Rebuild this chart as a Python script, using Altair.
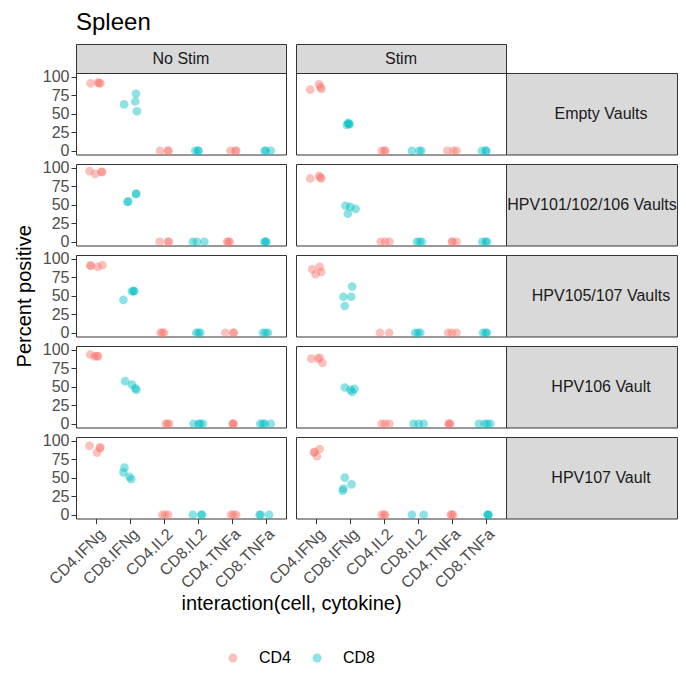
import altair as alt
import pandas as pd

FONT = "Liberation Sans"

CATEGORIES = ["CD4.IFNg", "CD8.IFNg", "CD4.IL2", "CD8.IL2", "CD4.TNFa", "CD8.TNFa"]
VAULTS = ["Empty Vaults", "HPV101/102/106 Vaults", "HPV105/107 Vaults", "HPV106 Vault", "HPV107 Vault"]
STIMS = ["No Stim", "Stim"]
CELLS = ["CD4", "CD8"]
COLORS = ["#F8766D", "#00BFC4"]
Y_TICKS = [0, 25, 50, 75, 100]

# (category index, horizontal jitter, percent positive)
EMPTY_NOSTIM = [
    (0, -0.17, 91), (0, 0.05, 92), (0, 0.12, 91), (0, 0.08, 91.5),
    (1, -0.18, 62.7), (1, 0.17, 77), (1, 0.15, 66.5), (1, 0.2, 53.3),
    (2, -0.12, 0), (2, 0.11, 0), (2, 0.13, 0),
    (3, -0.08, 0), (3, 0.0, 0), (3, 0.02, 0),
    (4, -0.04, 0), (4, 0.11, 0), (4, 0.13, 0),
    (5, -0.03, 0), (5, 0.0, 0), (5, 0.15, 0),
]
EMPTY_STIM = [
    (0, -0.18, 82.5), (0, 0.08, 89.6), (0, 0.15, 83.5), (0, 0.12, 86),
    (1, -0.1, 35), (1, -0.04, 36.3), (1, -0.02, 35.8), (1, -0.06, 37.7),
    (2, -0.07, 0), (2, 0.03, 0), (2, 0.02, 0),
    (3, -0.18, 0), (3, 0.04, 0), (3, 0.1, 0),
    (4, -0.13, 0), (4, 0.05, 0), (4, 0.14, 0),
    (5, -0.11, 0), (5, 0.02, 0), (5, 0.0, 0),
]
H101_NOSTIM = [
    (0, -0.2, 95.3), (0, -0.03, 91.6), (0, 0.17, 94), (0, 0.15, 94.5),
    (1, -0.08, 53.7), (1, -0.06, 54.5), (1, 0.18, 65), (1, 0.17, 64.5),
    (2, -0.13, 0), (2, 0.14, 0), (2, 0.12, 0),
    (3, -0.15, 0), (3, -0.03, 0), (3, 0.19, 0),
    (4, -0.14, 0), (4, -0.06, 0), (4, -0.1, 0),
    (5, 0.0, 0), (5, -0.04, 0), (5, 0.02, 0),
]
H101_STIM = [
    (0, -0.18, 85.5), (0, 0.08, 89), (0, 0.15, 85.5), (0, 0.12, 87),
    (1, -0.14, 48.6), (1, 0.0, 47.2), (1, 0.16, 44.4), (1, -0.07, 37.9),
    (2, -0.1, 0), (2, 0.03, 0), (2, 0.16, 0),
    (3, -0.03, 0), (3, 0.12, 0), (3, 0.05, 0),
    (4, 0.0, 0), (4, 0.14, 0), (4, 0.02, 0),
    (5, -0.1, 0), (5, 0.04, 0), (5, 0.0, 0),
]
H105_NOSTIM = [
    (0, -0.18, 90.8), (0, 0.04, 89), (0, 0.18, 91.3), (0, -0.16, 90.5),
    (1, -0.2, 44.5), (1, 0.05, 56), (1, 0.12, 56), (1, 0.1, 56.5),
    (2, -0.1, 0), (2, 0.0, 0), (2, -0.05, 0),
    (3, -0.05, 0), (3, 0.07, 0), (3, 0.02, 0),
    (4, -0.19, 0), (4, 0.06, 0), (4, 0.04, 0),
    (5, -0.08, 0), (5, 0.07, 0), (5, 0.0, 0),
]
H105_STIM = [
    (0, -0.12, 85.8), (0, 0.1, 89), (0, -0.02, 79), (0, 0.15, 82),
    (1, -0.2, 48.6), (1, 0.06, 62.4), (1, 0.03, 48.6), (1, -0.16, 36.2),
    (2, -0.12, 0), (2, 0.15, 0),
    (3, -0.08, 0), (3, 0.07, 0), (3, 0.0, 0),
    (4, -0.11, 0), (4, 0.14, 0), (4, 0.0, 0),
    (5, -0.08, 0), (5, 0.04, 0), (5, 0.0, 0),
]
H106_NOSTIM = [
    (0, -0.18, 93.5), (0, -0.05, 91), (0, 0.05, 91), (0, 0.02, 91.5),
    (1, -0.15, 57.5), (1, 0.05, 52.8), (1, 0.15, 48), (1, 0.18, 45.8),
    (2, 0.05, 0), (2, 0.15, 0), (2, 0.1, 0),
    (3, -0.13, 0), (3, 0.02, 0), (3, 0.15, 0), (3, 0.06, 0),
    (4, 0.04, 0), (4, 0.03, 0), (4, 0.05, 0),
    (5, -0.16, 0), (5, -0.03, 0), (5, 0.15, 0), (5, -0.08, 0),
]
H106_STIM = [
    (0, -0.15, 87.9), (0, 0.1, 89), (0, 0.18, 82), (0, 0.05, 88),
    (1, -0.16, 49), (1, 0.06, 43), (1, 0.13, 47.2), (1, 0.01, 45.8),
    (2, -0.07, 0), (2, 0.03, 0), (2, 0.16, 0),
    (3, -0.13, 0), (3, 0.02, 0), (3, 0.17, 0),
    (4, -0.1, 0), (4, -0.05, 0), (4, -0.07, 0),
    (5, -0.2, 0), (5, -0.03, 0), (5, 0.14, 0), (5, 0.05, 0),
]
H107_NOSTIM = [
    (0, -0.2, 93), (0, 0.02, 83.7), (0, 0.1, 89.8), (0, 0.12, 91),
    (1, -0.17, 63.7), (1, -0.2, 57.2), (1, -0.02, 51.2), (1, 0.03, 48),
    (2, -0.05, 0), (2, 0.12, 0), (2, 0.03, 0),
    (3, -0.15, 0), (3, 0.12, 0), (3, 0.1, 0),
    (4, -0.02, 0), (4, 0.13, 0), (4, 0.05, 0),
    (5, -0.18, 0), (5, -0.15, 0), (5, 0.1, 0),
]
H107_STIM = [
    (0, -0.05, 85), (0, 0.1, 88.8), (0, 0.02, 79), (0, -0.07, 84),
    (1, -0.16, 50.2), (1, 0.04, 41), (1, -0.2, 35.3), (1, -0.22, 32.6),
    (2, -0.07, 0), (2, 0.03, 0), (2, 0.0, 0),
    (3, -0.18, 0), (3, 0.17, 0),
    (4, -0.03, 0), (4, 0.04, 0), (4, 0.0, 0),
    (5, 0.07, 0), (5, 0.05, 0), (5, 0.09, 0),
]

PANELS = {
    ("Empty Vaults", "No Stim"): EMPTY_NOSTIM,
    ("Empty Vaults", "Stim"): EMPTY_STIM,
    ("HPV101/102/106 Vaults", "No Stim"): H101_NOSTIM,
    ("HPV101/102/106 Vaults", "Stim"): H101_STIM,
    ("HPV105/107 Vaults", "No Stim"): H105_NOSTIM,
    ("HPV105/107 Vaults", "Stim"): H105_STIM,
    ("HPV106 Vault", "No Stim"): H106_NOSTIM,
    ("HPV106 Vault", "Stim"): H106_STIM,
    ("HPV107 Vault", "No Stim"): H107_NOSTIM,
    ("HPV107 Vault", "Stim"): H107_STIM,
}

records = []
for (vault, stim), pts in PANELS.items():
    for c, jit, val in pts:
        records.append({"vault": vault, "stim": stim, "pos": c + 1 + jit,
                        "value": val, "cell": CATEGORIES[c].split(".")[0]})
df = pd.DataFrame(records)

PW, PH = 210, 81.5
STRIP_H = 29
ROW_STRIP_W = 171
COL_GAP = 10
ROW_GAP = 9
BORDER = "#333333"
STRIP_FILL = "#D9D9D9"

label_expr = "[" + ",".join("'" + c + "'" for c in CATEGORIES) + "][datum.value - 1]"

LEGEND = alt.Legend(
    title=None, orient="none", direction="horizontal", legendX=149, legendY=606,
    symbolType="circle", symbolSize=80, symbolOpacity=0.45, symbolStrokeWidth=0,
    labelFontSize=16, labelFont=FONT, labelColor="#000000", labelOffset=18,
    columnPadding=17, padding=0,
)


def panel(vault, stim, bottom, ytitle):
    sub = df[(df.vault == vault) & (df.stim == stim)]
    if bottom:
        x_axis = alt.Axis(
            values=[1, 2, 3, 4, 5, 6], labelExpr=label_expr, labelAngle=315,
            labelAlign="right", labelBaseline="top", labelFontSize=16,
            labelColor="#4D4D4D", labelPadding=2, tickSize=5, tickColor=BORDER,
            domain=False, grid=False, labelOverlap=False,
            title="interaction(cell, cytokine)" if stim == "No Stim" else None,
            titleFontSize=20, titleFontWeight="normal", titleColor="#000000",
            titleX=215, titleY=75, titleAlign="center", titleBaseline="top",
        )
    else:
        x_axis = None
    if stim == "No Stim":
        y_axis = alt.Axis(
            values=Y_TICKS, labelFontSize=16, labelColor="#4D4D4D", labelPadding=2,
            tickSize=5, tickColor=BORDER, domain=False, grid=False,
            title="Percent positive" if ytitle else None, titleFontSize=20,
            titleFontWeight="normal", titleColor="#000000", titlePadding=8,
        )
    else:
        y_axis = None
    return alt.Chart(sub).mark_circle(size=75, opacity=0.45).encode(
        x=alt.X("pos:Q", scale=alt.Scale(domain=[0.4, 6.6], nice=False, zero=False), axis=x_axis),
        y=alt.Y("value:Q", scale=alt.Scale(domain=[-5, 105], nice=False, zero=False), axis=y_axis),
        color=alt.Color("cell:N", scale=alt.Scale(domain=CELLS, range=COLORS), legend=LEGEND),
    ).properties(width=PW, height=PH)


def strip(label, w, h, tx):
    return alt.Chart(pd.DataFrame({"label": [label]})).mark_text(
        fontSize=16, font=FONT, color="#1A1A1A", baseline="middle", align="center", clip=True
    ).encode(
        text="label:N", x=alt.value(tx), y=alt.value(h / 2)
    ).properties(width=w, height=h,
                 view=alt.ViewBackground(fill=STRIP_FILL, stroke=BORDER, strokeWidth=1))


def spacer(w, h):
    return alt.Chart(pd.DataFrame({"s": [0]})).mark_point(opacity=0).encode(
        x=alt.value(0), y=alt.value(0)
    ).properties(width=w, height=h,
                 view=alt.ViewBackground(fill="transparent", stroke="transparent"))


cells = [
    strip("No Stim", PW, STRIP_H, PW / 2), spacer(COL_GAP, STRIP_H),
    strip("Stim", PW, STRIP_H, PW / 2), spacer(ROW_STRIP_W, STRIP_H),
]
for i, v in enumerate(VAULTS):
    bottom = i == len(VAULTS) - 1
    text_x = 86 if len(v) > 18 else 95  # keep the long label inside the page
    cells += [
        panel(v, "No Stim", bottom, i == 2), spacer(COL_GAP, PH),
        panel(v, "Stim", bottom, False), strip(v, ROW_STRIP_W, PH, text_x),
    ]
    if not bottom:
        cells += [spacer(PW, ROW_GAP), spacer(COL_GAP, ROW_GAP),
                  spacer(PW, ROW_GAP), spacer(ROW_STRIP_W, ROW_GAP)]

chart = alt.concat(*cells, columns=4, spacing=0, bounds="flush", align="each").properties(
    title=alt.TitleParams("Spleen", anchor="start", frame="group", fontSize=24, font=FONT,
                          fontWeight="normal", color="#000000", offset=6),
    padding={"left": 5, "top": 2, "right": 0, "bottom": 0},
).configure(font=FONT, background="white").configure_view(stroke=BORDER, strokeWidth=1)

chart.save("out.html", embed_options={"renderer": "svg", "actions": False})
